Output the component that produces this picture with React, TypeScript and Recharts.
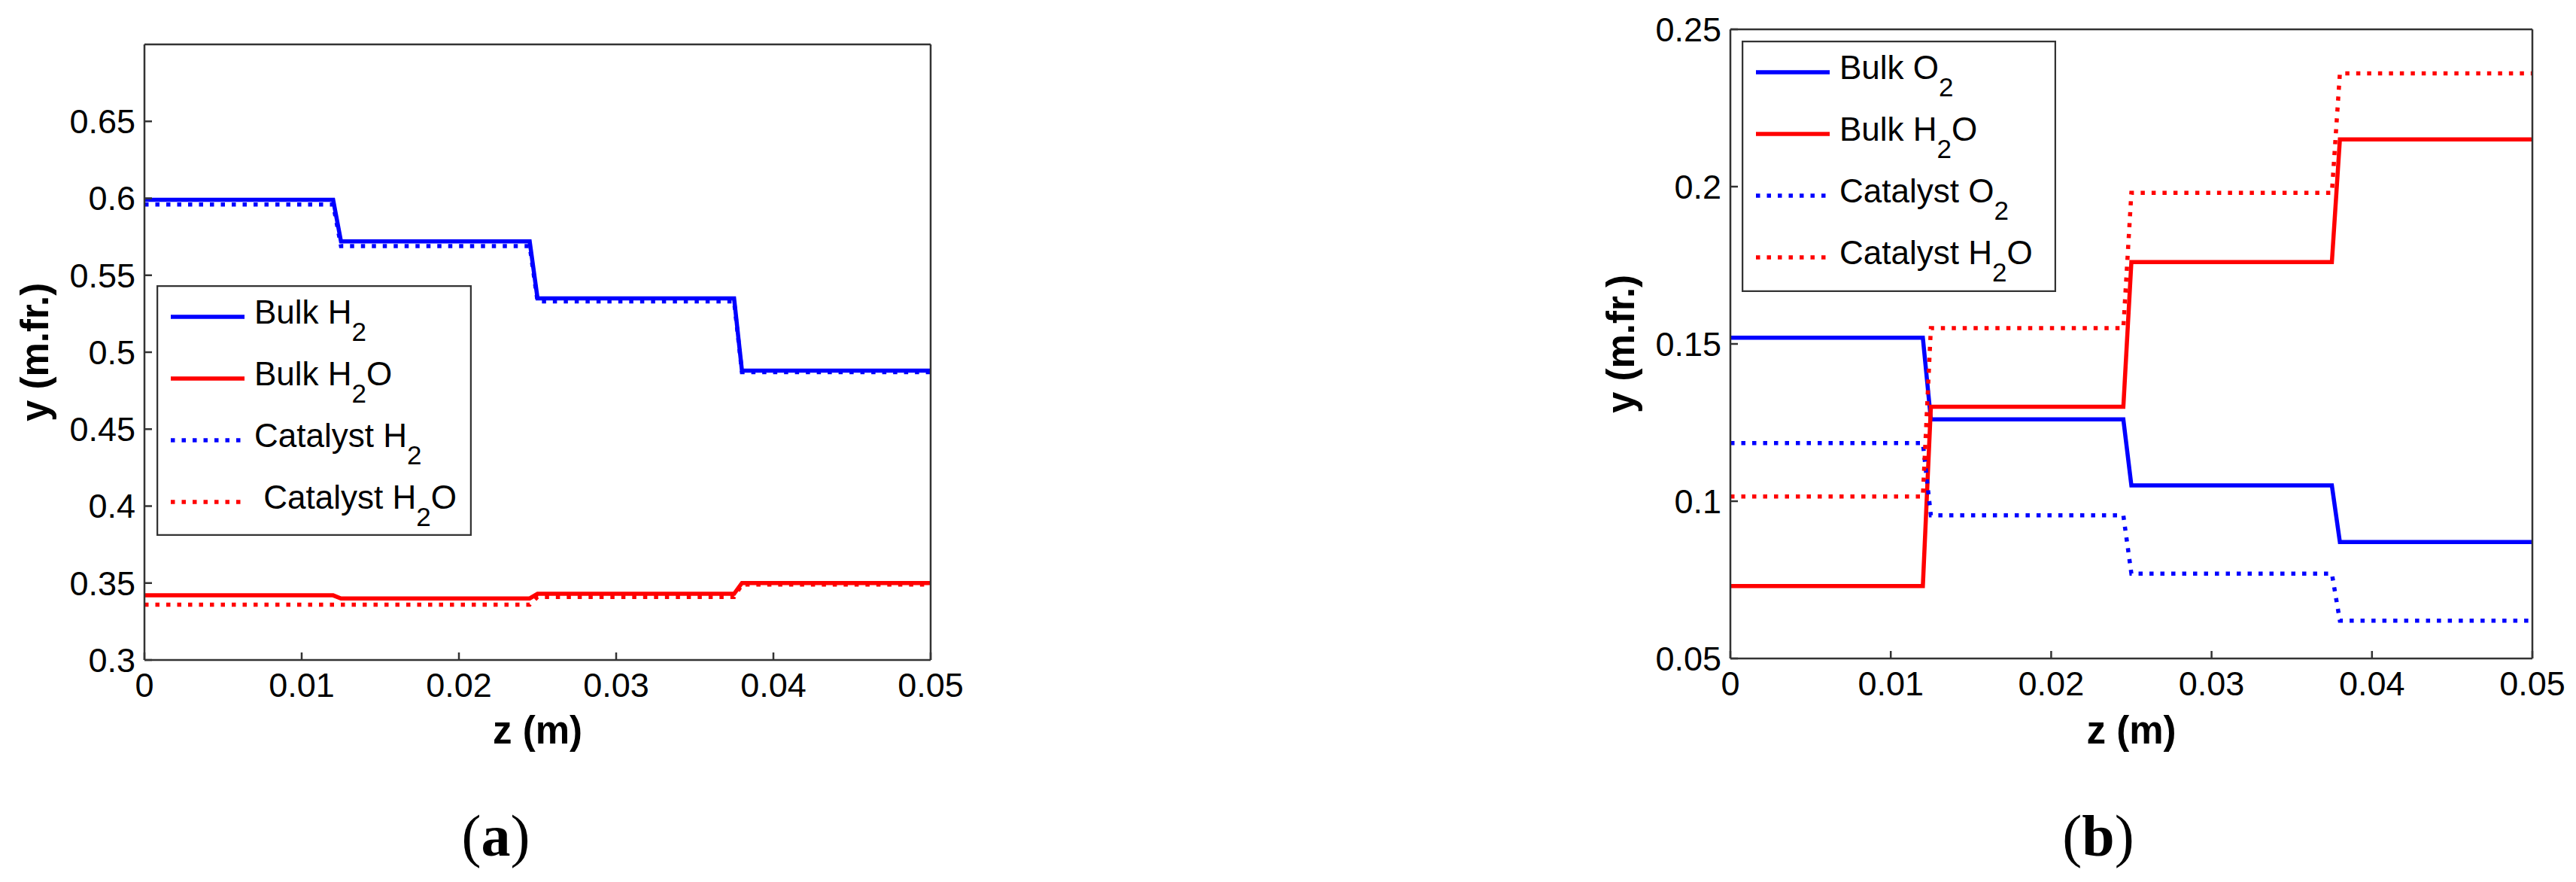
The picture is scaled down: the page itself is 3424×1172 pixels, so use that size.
import React from 'react';
import { LineChart, Line, XAxis, YAxis, Legend } from 'recharts';

// axial position (m): plateau ends and step starts
const zPoints = [0, 0.012, 0.0125, 0.0245, 0.025, 0.0375, 0.038, 0.05];

// (a) hydrogen side
const bulkH2 = [0.599, 0.599, 0.572, 0.572, 0.535, 0.535, 0.488, 0.488];
const bulkH2Oa = [0.342, 0.342, 0.34, 0.34, 0.343, 0.343, 0.35, 0.35];
const catalystH2 = [0.596, 0.596, 0.569, 0.569, 0.533, 0.533, 0.487, 0.487];
const catalystH2Oa = [0.336, 0.336, 0.336, 0.336, 0.341, 0.341, 0.349, 0.349];

// (b) oxygen side
const bulkO2 = [0.152, 0.152, 0.126, 0.126, 0.105, 0.105, 0.087, 0.087];
const bulkH2Ob = [0.073, 0.073, 0.13, 0.13, 0.176, 0.176, 0.215, 0.215];
const catalystO2 = [0.1185, 0.1185, 0.0955, 0.0955, 0.077, 0.077, 0.062, 0.062];
const catalystH2Ob = [0.1015, 0.1015, 0.155, 0.155, 0.198, 0.198, 0.236, 0.236];

const zTicks = [0, 0.01, 0.02, 0.03, 0.04, 0.05];
const yTicksA = [0.3, 0.35, 0.4, 0.45, 0.5, 0.55, 0.6, 0.65];
const yTicksB = [0.05, 0.1, 0.15, 0.2, 0.25];

const BLUE = '#0000ff';
const RED = '#ff0000';
const AXIS = '#333';
const LINE_W = 5.5;
const DOTS = '5.5 9';
const SUB_DY = 23;

interface Series {
  key: string;
  name: string;
  color: string;
  dotted: boolean;
  values: number[];
}

const seriesA: Series[] = [
  { key: 'bulkH2', name: 'Bulk H_2', color: BLUE, dotted: false, values: bulkH2 },
  { key: 'bulkH2O', name: 'Bulk H_2O', color: RED, dotted: false, values: bulkH2Oa },
  { key: 'catH2', name: 'Catalyst H_2', color: BLUE, dotted: true, values: catalystH2 },
  { key: 'catH2O', name: '\u00a0Catalyst H_2O', color: RED, dotted: true, values: catalystH2Oa },
];

const seriesB: Series[] = [
  { key: 'bulkO2', name: 'Bulk O_2', color: BLUE, dotted: false, values: bulkO2 },
  { key: 'bulkH2O', name: 'Bulk H_2O', color: RED, dotted: false, values: bulkH2Ob },
  { key: 'catO2', name: 'Catalyst O_2', color: BLUE, dotted: true, values: catalystO2 },
  { key: 'catH2O', name: 'Catalyst H_2O', color: RED, dotted: true, values: catalystH2Ob },
];

const toRows = (series: Series[]) =>
  zPoints.map((z, i) => {
    const row: Record<string, number> = { z };
    series.forEach((s) => (row[s.key] = s.values[i]));
    return row;
  });

// 'Bulk H_2O' -> Bulk H, subscript 2, O
function chemText(label: string) {
  const parts = label.split(/_(\d)/);
  return parts.map((p, i) =>
    i % 2 === 1 ? (
      <tspan key={i} dy={SUB_DY} fontSize={35}>
        {p}
      </tspan>
    ) : (
      <tspan key={i} dy={i === 0 ? 0 : -SUB_DY}>
        {p}
      </tspan>
    ),
  );
}

function LegendBox({ series, w, h }: { series: Series[]; w: number; h: number }) {
  return (
    <svg width={w} height={h} style={{ display: 'block' }}>
      <rect x={1} y={1} width={w - 2} height={h - 2} fill="#fff" stroke={AXIS} strokeWidth={2.5} />
      {series.map((s, i) => {
        const cy = 42 + i * 82;
        return (
          <g key={s.key}>
            <line
              x1={19}
              x2={117}
              y1={cy}
              y2={cy}
              stroke={s.color}
              strokeWidth={LINE_W}
              strokeDasharray={s.dotted ? DOTS : undefined}
            />
            <text x={130} y={cy + 9} fontSize={44} fill="#000">
              {chemText(s.name)}
            </text>
          </g>
        );
      })}
    </svg>
  );
}

interface PanelProps {
  left: number;
  width: number;
  margin: { top: number; right: number; bottom: number; left: number };
  series: Series[];
  yDomain: [number, number];
  yTicks: number[];
  legend: { left: number; top: number; w: number; h: number };
  xLabelOffset: number;
}

function Panel({ left, width, margin, series, yDomain, yTicks, legend, xLabelOffset }: PanelProps) {
  const data = toRows(series);
  const axisLine = { stroke: AXIS, strokeWidth: 2.5 };
  const tickFont = { fontSize: 45, fill: '#000' };
  return (
    <div style={{ position: 'absolute', left, top: 0 }}>
      <LineChart width={width} height={1172} data={data} margin={margin}>
        <XAxis
          dataKey="z"
          type="number"
          domain={[0, 0.05]}
          ticks={zTicks}
          interval={0}
          height={60}
          tickSize={-10}
          tickMargin={27}
          axisLine={axisLine}
          tickLine={axisLine}
          tick={tickFont}
          label={{ value: 'z (m)', position: 'bottom', offset: xLabelOffset, fontSize: 51, fontWeight: 'bold', fill: '#000' }}
        />
        <XAxis
          xAxisId="top"
          orientation="top"
          type="number"
          domain={[0, 0.05]}
          allowDataOverflow
          ticks={zTicks}
          interval={0}
          height={1}
          tickSize={-10}
          axisLine={axisLine}
          tickLine={axisLine}
          tick={false}
        />
        <YAxis
          type="number"
          domain={yDomain}
          allowDataOverflow
          ticks={yTicks}
          interval={0}
          width={192}
          tickSize={-10}
          tickMargin={22}
          axisLine={axisLine}
          tickLine={axisLine}
          tick={tickFont}
          label={{ value: 'y (m.fr.)', angle: -90, position: 'center', dx: -50, fontSize: 51, fontWeight: 'bold', fill: '#000' }}
        />
        <YAxis
          yAxisId="right"
          orientation="right"
          type="number"
          domain={yDomain}
          allowDataOverflow
          ticks={yTicks}
          interval={0}
          width={1}
          tickSize={-10}
          axisLine={axisLine}
          tickLine={axisLine}
          tick={false}
        />
        {series.map((s) => (
          <Line
            key={s.key}
            type="linear"
            dataKey={s.key}
            name={s.name}
            stroke={s.color}
            strokeWidth={LINE_W}
            strokeDasharray={s.dotted ? DOTS : undefined}
            dot={false}
            isAnimationActive={false}
          />
        ))}
        <Legend
          layout="horizontal"
          verticalAlign="middle"
          align="center"
          wrapperStyle={{ position: 'absolute', left: legend.left, top: legend.top, width: legend.w, height: legend.h, margin: 0, padding: 0 }}
          content={() => <LegendBox series={series} w={legend.w} h={legend.h} />}
        />
      </LineChart>
    </div>
  );
}

function Caption({ cx, letter }: { cx: number; letter: string }) {
  return (
    <div
      style={{
        position: 'absolute',
        left: cx - 100,
        top: 1072,
        width: 200,
        textAlign: 'center',
        fontFamily: '"Liberation Serif", "Times New Roman", serif',
        fontSize: 78,
        lineHeight: '78px',
        color: '#000',
      }}
    >
      (<b>{letter}</b>)
    </div>
  );
}

export default function App() {
  return (
    <div
      style={{
        position: 'absolute',
        left: 0,
        top: 0,
        width: 3424,
        height: 1172,
        background: '#fff',
        overflow: 'hidden',
        fontFamily: '"Liberation Sans", Arial, sans-serif',
      }}
    >
      <Panel
        left={0}
        width={1300}
        margin={{ top: 58, right: 62, bottom: 235, left: 0 }}
        series={seriesA}
        yDomain={[0.3, 0.7]}
        yTicks={yTicksA}
        legend={{ left: 208, top: 379, w: 419, h: 333 }}
        xLabelOffset={15}
      />
      <Panel
        left={1700}
        width={1724}
        margin={{ top: 38, right: 57, bottom: 237, left: 408 }}
        series={seriesB}
        yDomain={[0.05, 0.25]}
        yTicks={yTicksB}
        legend={{ left: 615, top: 54, w: 418, h: 334 }}
        xLabelOffset={17}
      />
      <Caption cx={659} letter="a" />
      <Caption cx={2789} letter="b" />
    </div>
  );
}
